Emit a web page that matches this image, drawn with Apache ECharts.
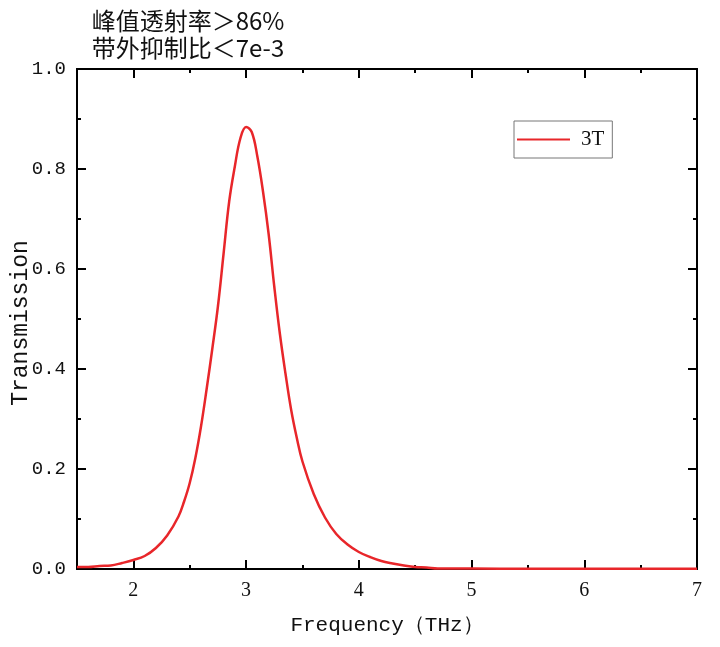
<!DOCTYPE html>
<html>
<head>
<meta charset="utf-8">
<script src="https://cdn.jsdelivr.net/npm/echarts@6/dist/echarts.min.js"></script>
<style>
  html, body { margin: 0; padding: 0; background: #fff; }
  #chart { width: 720px; height: 647px; }
</style>
</head>
<body>
<div id="chart"></div>
<script>
// curve
var freq = [1.5, 1.6, 1.7, 1.8, 1.9, 2.0, 2.1, 2.2, 2.3, 2.4, 2.45, 2.5, 2.55, 2.6, 2.65, 2.7, 2.75, 2.8, 2.85, 2.9, 2.95, 3.0, 3.05, 3.1, 3.15, 3.2, 3.25, 3.3, 3.35, 3.4, 3.45, 3.5, 3.6, 3.7, 3.8, 3.9, 4.0, 4.1, 4.2, 4.3, 4.4, 4.5, 4.6, 4.7, 5.0, 5.5, 6.0, 6.5, 7.0];
var trans = [0.004, 0.004, 0.006, 0.007, 0.012, 0.018, 0.026, 0.042, 0.067, 0.105, 0.135, 0.172, 0.222, 0.285, 0.36, 0.44, 0.525, 0.63, 0.735, 0.805, 0.862, 0.884, 0.874, 0.825, 0.755, 0.67, 0.565, 0.47, 0.39, 0.318, 0.262, 0.215, 0.15, 0.103, 0.07, 0.049, 0.034, 0.024, 0.016, 0.011, 0.007, 0.004, 0.003, 0.001, 0.001, 0.0005, 0.0005, 0.0005, 0.0005];

var seriesName = '3T';
var xMajor = [2, 3, 4, 5, 6, 7];
var xMinor = [2.5, 3.5, 4.5, 5.5, 6.5];
var titleLines = ['峰值透射率＞86%', '带外抑制比＜7e-3'];
var yName = 'Transmission';

var data = [];
for (var i = 0; i < freq.length; i++) {
    data.push([freq[i], trans[i]]);
}

var black = '#000';
var labelFont = 'Liberation Mono';

var myChart = echarts.init(document.getElementById('chart'));

var baseX = {
    type: 'value',
    min: 1.5,
    max: 7,
    splitLine: { show: false },
    axisLine: { onZero: false, lineStyle: { color: black, width: 2 } }
};

var option = {
    animation: false,
    grid: { left: 77, right: 23, top: 69, bottom: 78, outerBoundsMode: 'none', containLabel: false },
    graphic: [
        {
            type: 'text', x: 188, y: 21,
            style: { text: titleLines[0], textAlign: 'center', textVerticalAlign: 'middle',
                font: '24px "Noto Sans CJK SC"', fill: '#111' }
        },
        {
            type: 'text', x: 188, y: 48,
            style: { text: titleLines[1], textAlign: 'center', textVerticalAlign: 'middle',
                font: '24px "Noto Sans CJK SC"', fill: '#111' }
        },
        {
            // y axis name, drawn by hand so it sits where the reference has it
            type: 'text', x: 21, y: 323, rotation: Math.PI / 2,
            style: { text: yName, textAlign: 'center', textVerticalAlign: 'middle',
                font: '23px "Liberation Mono"', fill: '#111' }
        }
    ],
    legend: {
        left: 514,
        top: 121,
        data: [{ name: seriesName, icon: 'rect' }],
        itemWidth: 53,
        itemHeight: 2,
        itemGap: 0,
        borderColor: '#777',
        borderWidth: 1,
        padding: [8, 8, 8, 3],
        textStyle: { fontFamily: 'Liberation Serif', fontSize: 21, color: '#111', padding: [0, 0, 0, 6] }
    },
    xAxis: [
        // bottom, long ticks + labels
        Object.assign({}, baseX, {
            position: 'bottom',
            name: 'Frequency（THz）',
            nameLocation: 'middle',
            nameGap: 46,
            nameTextStyle: { fontFamily: labelFont, fontSize: 21, color: '#111' },
            axisTick: { inside: true, length: 9, customValues: xMajor, lineStyle: { color: black, width: 2 } },
            axisLabel: { customValues: xMajor, margin: 12, fontFamily: 'Liberation Serif', fontSize: 20, color: '#111' }
        }),
        // bottom, short ticks
        Object.assign({}, baseX, {
            position: 'bottom',
            axisTick: { inside: true, length: 4, customValues: xMinor, lineStyle: { color: black, width: 2 } },
            axisLabel: { show: false }
        }),
        // top, long ticks
        Object.assign({}, baseX, {
            position: 'top',
            axisTick: { inside: true, length: 9, customValues: xMajor, lineStyle: { color: black, width: 2 } },
            axisLabel: { show: false }
        }),
        // top, short ticks
        Object.assign({}, baseX, {
            position: 'top',
            axisTick: { inside: true, length: 4, customValues: xMinor, lineStyle: { color: black, width: 2 } },
            axisLabel: { show: false }
        })
    ],
    yAxis: [
        {
            type: 'value',
            position: 'left',
            min: 0,
            max: 1,
            interval: 0.2,
            splitLine: { show: false },
            axisLine: { show: true, onZero: false, lineStyle: { color: black, width: 2 } },
            axisTick: { show: true, inside: true, length: 9, lineStyle: { color: black, width: 2 } },
            minorTick: { show: true, splitNumber: 2, length: 4, lineStyle: { color: black, width: 2 } },
            axisLabel: {
                margin: 11, fontFamily: labelFont, fontSize: 19, color: '#111',
                formatter: function (v) { return v.toFixed(1); }
            }
        },
        {
            type: 'value',
            position: 'right',
            min: 0,
            max: 1,
            interval: 0.2,
            splitLine: { show: false },
            axisLine: { show: true, onZero: false, lineStyle: { color: black, width: 2 } },
            axisTick: { show: true, inside: true, length: 9, lineStyle: { color: black, width: 2 } },
            minorTick: { show: true, splitNumber: 2, length: 4, lineStyle: { color: black, width: 2 } },
            axisLabel: { show: false }
        }
    ],
    series: [
        {
            name: seriesName,
            type: 'line',
            xAxisIndex: 0,
            yAxisIndex: 0,
            data: data,
            smooth: 0.4,
            symbol: 'none',
            z: 1,
            itemStyle: { color: '#e8262a' },
            lineStyle: { color: '#e8262a', width: 2.5 }
        }
    ]
};

myChart.setOption(option);
</script>
</body>
</html>
